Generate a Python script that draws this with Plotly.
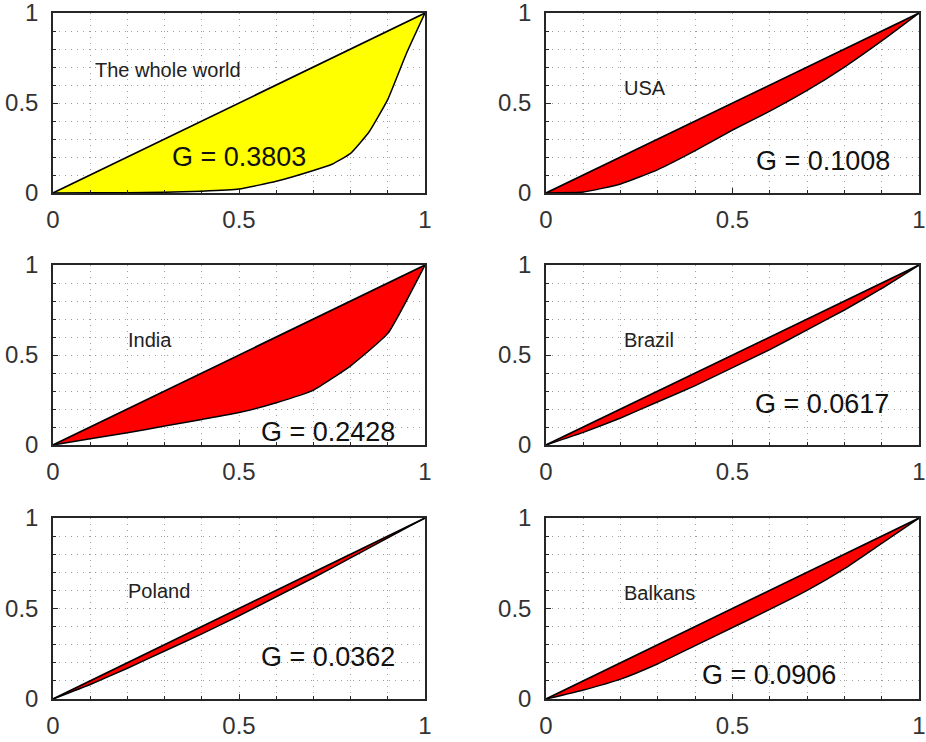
import plotly.graph_objects as go

# Lorenz curves: cumulative population share vs cumulative income share
pop = [0, 0.1, 0.2, 0.3, 0.4, 0.5, 0.6, 0.7, 0.8, 0.9, 1.0]
world_pop = [0, 0.1, 0.2, 0.3, 0.4, 0.5, 0.6, 0.7, 0.75, 0.8, 0.85, 0.9, 0.95, 1.0]
world_inc = [0, 0.001, 0.002, 0.004, 0.01, 0.022, 0.065, 0.125, 0.16, 0.22, 0.34, 0.52, 0.775, 1.0]
usa_inc = [0, 0.005, 0.05, 0.13, 0.235, 0.35, 0.455, 0.57, 0.70, 0.845, 1.0]
india_inc = [0, 0.035, 0.068, 0.105, 0.142, 0.18, 0.235, 0.305, 0.44, 0.62, 1.0]
brazil_inc = [0, 0.07, 0.15, 0.24, 0.33, 0.43, 0.53, 0.64, 0.75, 0.87, 1.0]
poland_inc = [0, 0.08, 0.17, 0.265, 0.36, 0.46, 0.565, 0.67, 0.78, 0.89, 1.0]
balkans_inc = [0, 0.05, 0.11, 0.195, 0.295, 0.395, 0.495, 0.60, 0.72, 0.86, 1.0]

names = ["The whole world", "USA", "India", "Brazil", "Poland", "Balkans"]
gini = ["0.3803", "0.1008", "0.2428", "0.0617", "0.0362", "0.0906"]
tick_vals = [0, 0.5, 1]

panels = [
    (world_pop, world_inc, "#ffff00", (0.108, 0.685), (0.50, 0.20)),
    (pop, usa_inc, "#ff0000", (0.203, 0.583), (0.743, 0.176)),
    (pop, india_inc, "#ff0000", (0.197, 0.585), (0.74, 0.074)),
    (pop, brazil_inc, "#ff0000", (0.203, 0.585), (0.741, 0.227)),
    (pop, poland_inc, "#ff0000", (0.197, 0.594), (0.74, 0.234)),
    (pop, balkans_inc, "#ff0000", (0.203, 0.585), (0.597, 0.133)),
]

W, H = 926, 742
col_px = [(53, 425), (546, 919)]
row_px = [(13, 193), (265, 445), (518, 699)]

fig = go.Figure()
layout = dict(width=W, height=H, margin=dict(l=0, r=0, t=0, b=0, autoexpand=False),
              paper_bgcolor="white", plot_bgcolor="white", showlegend=False,
              font=dict(family="Liberation Sans, Arial, sans-serif", color="#333333"))

grid_col = "#a0a0a0"
axis_style = dict(range=[0, 1], tickvals=tick_vals, ticks="inside", ticklen=5,
                  tickcolor="#262626", showline=True, linecolor="#262626", linewidth=1.5,
                  mirror=True, showgrid=True, gridcolor=grid_col, griddash="1px,5px",
                  gridwidth=1, zeroline=False, automargin=False,
                  ticklabeloverflow="allow",
                  tickfont=dict(size=24, color="#333333"),
                  minor=dict(dtick=0.1, tick0=0, ticks="inside", ticklen=3,
                             tickcolor="#262626", showgrid=True, gridcolor=grid_col,
                             griddash="1px,5px", gridwidth=1),
                  fixedrange=True)

annotations = []
for i, (xs, ys, color, lab_pos, g_pos) in enumerate(panels):
    r, c = divmod(i, 2)
    n = "" if i == 0 else str(i + 1)
    xa, ya = "x" + n, "y" + n
    x0, x1 = col_px[c]
    y0, y1 = row_px[r]
    layout["xaxis" + n] = dict(axis_style, domain=[x0 / W, x1 / W], anchor=ya,
                               ticklabelstandoff=4)
    layout["yaxis" + n] = dict(axis_style, domain=[1 - y1 / H, 1 - y0 / H], anchor=xa,
                               ticklabelstandoff=8)
    # equality line, then Lorenz curve filled up to it
    fig.add_trace(go.Scatter(x=xs, y=xs, mode="lines", xaxis=xa, yaxis=ya,
                             line=dict(color="black", width=1.6), hoverinfo="skip"))
    fig.add_trace(go.Scatter(x=xs, y=ys, mode="lines", xaxis=xa, yaxis=ya,
                             fill="tonexty", fillcolor=color, line_shape="spline",
                             line=dict(color="black", width=1.5, smoothing=0.4)))
    annotations.append(dict(x=lab_pos[0], y=lab_pos[1], xref=xa, yref=ya,
                            text=names[i], showarrow=False, xanchor="left",
                            font=dict(size=20, color="#222222")))
    annotations.append(dict(x=g_pos[0], y=g_pos[1], xref=xa, yref=ya,
                            text="G = " + gini[i], showarrow=False, xanchor="center",
                            font=dict(size=27, color="#111111")))

layout["annotations"] = annotations
fig.update_layout(**layout)
# drop the browser's default 8px body margin so the figure fills the window
fig.write_html("out.html", config={"displayModeBar": False},
               post_script="document.body.style.margin = '0';")
